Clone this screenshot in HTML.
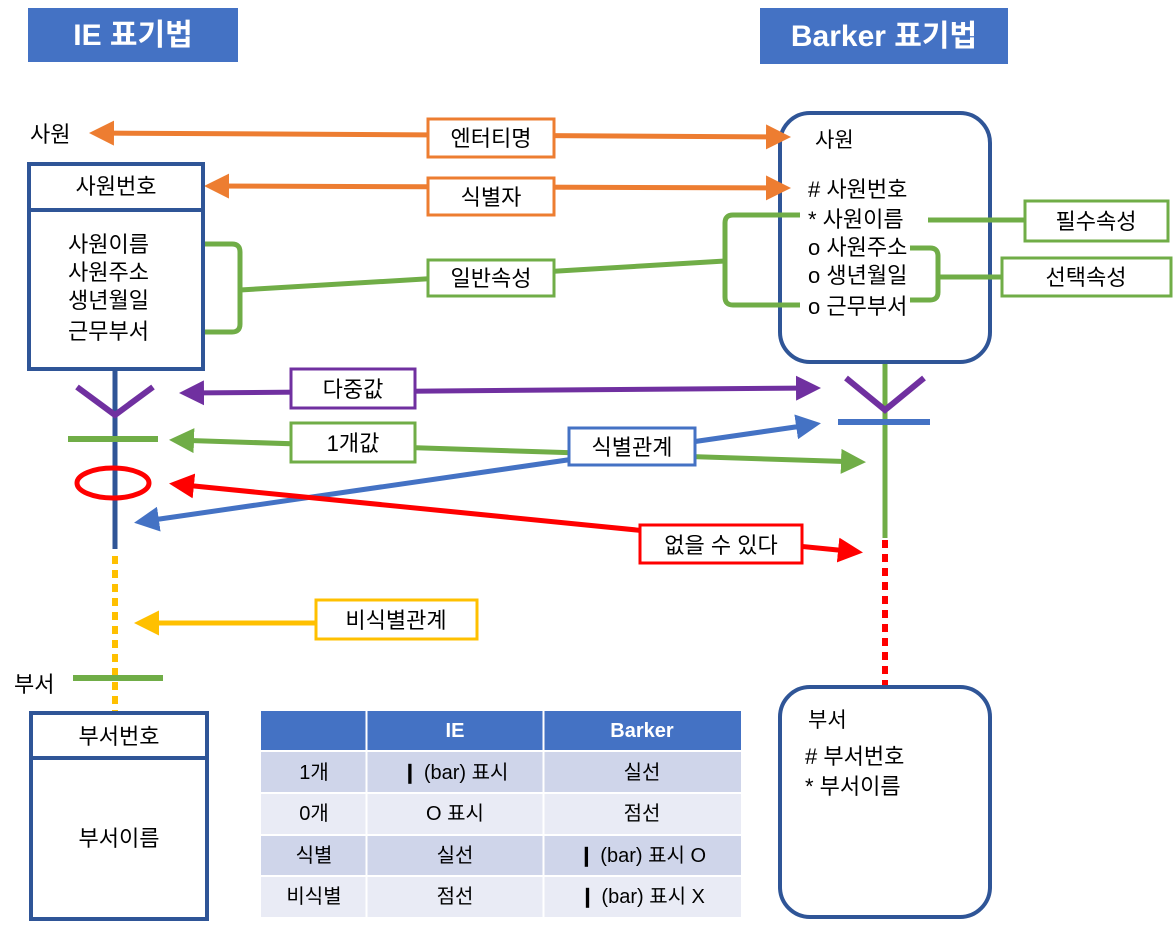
<!DOCTYPE html>
<html><head><meta charset="utf-8"><style>
body{margin:0;background:#fff}
svg{display:block}
text{font-family:"Liberation Sans","Noto Sans CJK KR",sans-serif;fill:#000}
</style></head><body>
<svg width="1173" height="926" viewBox="0 0 1173 926" xmlns="http://www.w3.org/2000/svg">
<defs>
<marker id="ao" markerWidth="5" markerHeight="5" refX="4" refY="2.5" orient="auto-start-reverse" markerUnits="strokeWidth"><path d="M0,0 L5,2.5 L0,5 Z" fill="#ED7D31"/></marker>
<marker id="ap" markerWidth="5" markerHeight="5" refX="4" refY="2.5" orient="auto-start-reverse" markerUnits="strokeWidth"><path d="M0,0 L5,2.5 L0,5 Z" fill="#7030A0"/></marker>
<marker id="ag" markerWidth="5" markerHeight="5" refX="4" refY="2.5" orient="auto-start-reverse" markerUnits="strokeWidth"><path d="M0,0 L5,2.5 L0,5 Z" fill="#70AD47"/></marker>
<marker id="ab" markerWidth="5" markerHeight="5" refX="4" refY="2.5" orient="auto-start-reverse" markerUnits="strokeWidth"><path d="M0,0 L5,2.5 L0,5 Z" fill="#4472C4"/></marker>
<marker id="ar" markerWidth="5" markerHeight="5" refX="4" refY="2.5" orient="auto-start-reverse" markerUnits="strokeWidth"><path d="M0,0 L5,2.5 L0,5 Z" fill="#FF0000"/></marker>
<marker id="ay" markerWidth="5" markerHeight="5" refX="4" refY="2.5" orient="auto-start-reverse" markerUnits="strokeWidth"><path d="M0,0 L5,2.5 L0,5 Z" fill="#FFC000"/></marker>
</defs>
<!-- titles -->
<rect x="28" y="8" width="210" height="54" fill="#4472C4"/>
<text x="133" y="45" font-size="30" font-weight="bold" text-anchor="middle" style="fill:#fff">IE 표기법</text>
<rect x="760" y="8" width="248" height="56" fill="#4472C4"/>
<text x="884" y="46" font-size="30" font-weight="bold" text-anchor="middle" style="fill:#fff">Barker 표기법</text>

<!-- right Barker boxes first -->
<rect x="780" y="113" width="210" height="249" rx="30" fill="#fff" stroke="#2F5597" stroke-width="4"/>

<!-- lines -->
<line x1="94" y1="133" x2="786" y2="137" stroke="#ED7D31" stroke-width="5" marker-start="url(#ao)" marker-end="url(#ao)"/>
<line x1="209" y1="186" x2="786" y2="188" stroke="#ED7D31" stroke-width="5" marker-start="url(#ao)" marker-end="url(#ao)"/>
<path d="M172,244 H232 Q240,244 240,252 V324 Q240,332 232,332 H172" fill="none" stroke="#70AD47" stroke-width="5"/>
<line x1="240" y1="290" x2="725" y2="261" stroke="#70AD47" stroke-width="5"/>
<path d="M800,215 H733 Q725,215 725,223 V297 Q725,305 733,305 H800" fill="none" stroke="#70AD47" stroke-width="5"/>
<line x1="928" y1="220" x2="1024" y2="220" stroke="#70AD47" stroke-width="5"/>
<path d="M910,248 H930 Q938,248 938,256 V292 Q938,300 930,300 H910" fill="none" stroke="#70AD47" stroke-width="5"/>
<line x1="938" y1="277" x2="1002" y2="277" stroke="#70AD47" stroke-width="5"/>

<line x1="184" y1="393" x2="816" y2="388" stroke="#7030A0" stroke-width="5" marker-start="url(#ap)" marker-end="url(#ap)"/>
<line x1="174" y1="440" x2="861" y2="462" stroke="#70AD47" stroke-width="5" marker-start="url(#ag)" marker-end="url(#ag)"/>
<line x1="139" y1="522" x2="816" y2="424" stroke="#4472C4" stroke-width="5" marker-start="url(#ab)" marker-end="url(#ab)"/>
<line x1="174" y1="484" x2="858" y2="552" stroke="#FF0000" stroke-width="5" marker-start="url(#ar)" marker-end="url(#ar)"/>
<line x1="315" y1="623" x2="139" y2="623" stroke="#FFC000" stroke-width="5" marker-end="url(#ay)"/>

<!-- left IE -->
<rect x="29" y="164" width="174" height="205" fill="#fff" stroke="#2F5597" stroke-width="4"/>
<line x1="29" y1="210" x2="203" y2="210" stroke="#2F5597" stroke-width="4"/>
<text x="116" y="194" font-size="22" text-anchor="middle">사원번호</text>
<text x="68" y="252" font-size="22">사원이름</text>
<text x="68" y="280" font-size="22">사원주소</text>
<text x="68" y="308" font-size="22">생년월일</text>
<text x="68" y="339" font-size="22">근무부서</text>
<text x="30" y="142" font-size="22">사원</text>
<line x1="115" y1="370" x2="115" y2="549" stroke="#2F5597" stroke-width="5"/>
<polyline points="77,387 115,415 153,387" fill="none" stroke="#7030A0" stroke-width="6"/>
<line x1="68" y1="439" x2="158" y2="439" stroke="#70AD47" stroke-width="6"/>
<ellipse cx="113" cy="483" rx="36" ry="15" fill="none" stroke="#FF0000" stroke-width="5"/>
<line x1="115" y1="556" x2="115" y2="712" stroke="#FFC000" stroke-width="6" stroke-dasharray="8,6"/>
<line x1="73" y1="678" x2="163" y2="678" stroke="#70AD47" stroke-width="6"/>
<text x="14" y="692" font-size="22">부서</text>
<rect x="31" y="713" width="176" height="206" fill="#fff" stroke="#2F5597" stroke-width="4"/>
<line x1="31" y1="758" x2="207" y2="758" stroke="#2F5597" stroke-width="4"/>
<text x="119" y="744" font-size="22" text-anchor="middle">부서번호</text>
<text x="119" y="846" font-size="22" text-anchor="middle">부서이름</text>

<!-- right Barker text -->
<text x="815" y="147" font-size="21">사원</text>
<text x="808" y="197" font-size="22"># 사원번호</text>
<text x="808" y="227" font-size="22">* 사원이름</text>
<text x="808" y="255" font-size="22">o 사원주소</text>
<text x="808" y="283" font-size="22">o 생년월일</text>
<text x="808" y="314" font-size="22">o 근무부서</text>
<line x1="885" y1="364" x2="885" y2="538" stroke="#70AD47" stroke-width="5"/>
<polyline points="846,378 885,410 924,378" fill="none" stroke="#7030A0" stroke-width="6"/>
<line x1="838" y1="422" x2="930" y2="422" stroke="#4472C4" stroke-width="6"/>
<line x1="885" y1="540" x2="885" y2="688" stroke="#FF0000" stroke-width="6" stroke-dasharray="8,6"/>
<rect x="780" y="687" width="210" height="230" rx="30" fill="#fff" stroke="#2F5597" stroke-width="4"/>
<text x="808" y="727" font-size="21">부서</text>
<text x="805" y="764" font-size="22"># 부서번호</text>
<text x="805" y="794" font-size="22">* 부서이름</text>

<!-- labels -->
<g font-size="22" text-anchor="middle">
<rect x="428" y="119" width="126" height="38" fill="#fff" stroke="#ED7D31" stroke-width="3"/><text x="491" y="146">엔터티명</text>
<rect x="428" y="178" width="126" height="37" fill="#fff" stroke="#ED7D31" stroke-width="3"/><text x="491" y="205">식별자</text>
<rect x="428" y="260" width="126" height="36" fill="#fff" stroke="#70AD47" stroke-width="3"/><text x="491" y="286">일반속성</text>
<rect x="1025" y="201" width="143" height="40" fill="#fff" stroke="#70AD47" stroke-width="3"/><text x="1096" y="229">필수속성</text>
<rect x="1002" y="258" width="169" height="38" fill="#fff" stroke="#70AD47" stroke-width="3"/><text x="1086" y="285">선택속성</text>
<rect x="291" y="369" width="124" height="39" fill="#fff" stroke="#7030A0" stroke-width="3"/><text x="353" y="397">다중값</text>
<rect x="291" y="423" width="124" height="39" fill="#fff" stroke="#70AD47" stroke-width="3"/><text x="353" y="451">1개값</text>
<rect x="569" y="428" width="126" height="37" fill="#fff" stroke="#4472C4" stroke-width="3"/><text x="632" y="455">식별관계</text>
<rect x="640" y="525" width="162" height="38" fill="#fff" stroke="#FF0000" stroke-width="3"/><text x="721" y="553">없을 수 있다</text>
<rect x="316" y="600" width="161" height="39" fill="#fff" stroke="#FFC000" stroke-width="3"/><text x="396" y="628">비식별관계</text>
</g>

<!-- table -->
<rect x="261" y="711" width="480" height="39" fill="#4472C4"/>
<rect x="261" y="752" width="480" height="40" fill="#CFD5EA"/>
<rect x="261" y="794" width="480" height="40" fill="#E9EBF5"/>
<rect x="261" y="836" width="480" height="39" fill="#CFD5EA"/>
<rect x="261" y="877" width="480" height="40" fill="#E9EBF5"/>
<line x1="366.5" y1="711" x2="366.5" y2="917" stroke="#fff" stroke-width="2"/>
<line x1="543.5" y1="711" x2="543.5" y2="917" stroke="#fff" stroke-width="2"/>
<g font-size="20" text-anchor="middle">
<text x="455" y="737" font-weight="bold" style="fill:#fff">IE</text>
<text x="642" y="737" font-weight="bold" style="fill:#fff">Barker</text>
<text x="314" y="779">1개</text><text x="455" y="779">❙ (bar) 표시</text><text x="642" y="779">실선</text>
<text x="314" y="820">0개</text><text x="455" y="820">O 표시</text><text x="642" y="820">점선</text>
<text x="314" y="862">식별</text><text x="455" y="862">실선</text><text x="642" y="862">❙ (bar) 표시 O</text>
<text x="314" y="903">비식별</text><text x="455" y="903">점선</text><text x="642" y="903">❙ (bar) 표시 X</text>
</g>
</svg>
</body></html>
